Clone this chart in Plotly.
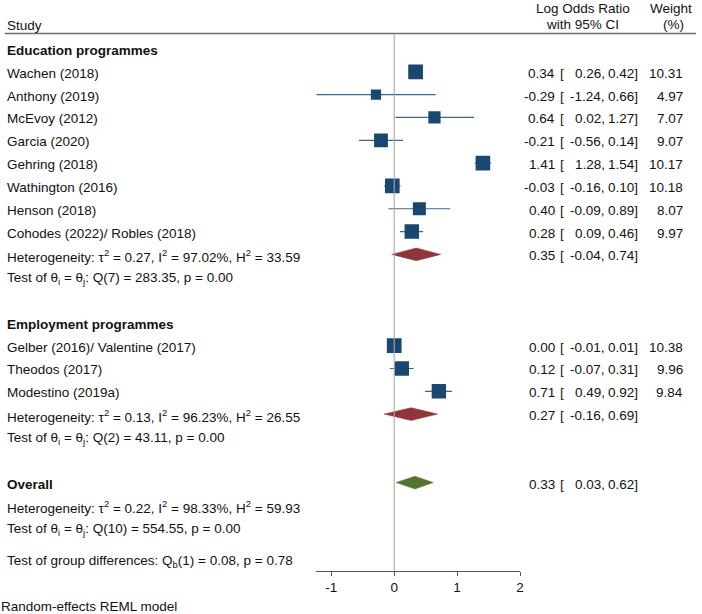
import plotly.graph_objects as go

# ---------------- data ----------------
edu_studies = ["Wachen (2018)", "Anthony (2019)", "McEvoy (2012)", "Garcia (2020)",
               "Gehring (2018)", "Wathington (2016)", "Henson (2018)",
               "Cohodes (2022)/ Robles (2018)"]
edu_est = [0.34, -0.29, 0.64, -0.21, 1.41, -0.03, 0.40, 0.28]
edu_lo = [0.26, -1.24, 0.02, -0.56, 1.28, -0.16, -0.09, 0.09]
edu_hi = [0.42, 0.66, 1.27, 0.14, 1.54, 0.10, 0.89, 0.46]
edu_w = [10.31, 4.97, 7.07, 9.07, 10.17, 10.18, 8.07, 9.97]
edu_sub = [0.35, -0.04, 0.74]
edu_het = "Heterogeneity: τ<sup>2</sup> = 0.27, I<sup>2</sup> = 97.02%, H<sup>2</sup> = 33.59"
edu_test = "Test of θ<sub>i</sub> = θ<sub>j</sub>: Q(7) = 283.35, p = 0.00"

emp_studies = ["Gelber (2016)/ Valentine (2017)", "Theodos (2017)", "Modestino (2019a)"]
emp_est = [0.00, 0.12, 0.71]
emp_lo = [-0.01, -0.07, 0.49]
emp_hi = [0.01, 0.31, 0.92]
emp_w = [10.38, 9.96, 9.84]
emp_sub = [0.27, -0.16, 0.69]
emp_het = "Heterogeneity: τ<sup>2</sup> = 0.13, I<sup>2</sup> = 96.23%, H<sup>2</sup> = 26.55"
emp_test = "Test of θ<sub>i</sub> = θ<sub>j</sub>: Q(2) = 43.11, p = 0.00"

overall = [0.33, 0.03, 0.62]
ov_het = "Heterogeneity: τ<sup>2</sup> = 0.22, I<sup>2</sup> = 98.33%, H<sup>2</sup> = 59.93"
ov_test = "Test of θ<sub>i</sub> = θ<sub>j</sub>: Q(10) = 554.55, p = 0.00"
group_test = "Test of group differences: Q<sub>b</sub>(1) = 0.08, p = 0.78"

group_names = ["Education programmes", "Employment programmes"]
tick_vals = [-1, 0, 1, 2]
footnote = "Random-effects REML model"

# ---------------- layout helpers ----------------
W, H = 702, 614
FONT = "Liberation Sans, Arial, sans-serif"
FS = 13.5
TXT = "#111111"
NAVY = "#1a476f"
CI_COL = "#3a6791"
MAROON = "#90353b"
GREEN = "#55752f"

ROW0_PX, ROW_PX = 49.0, 22.82
AXIS_PX = 570.7
y_bottom_row = (AXIS_PX - ROW0_PX) / ROW_PX
y_top_row = -ROW0_PX / ROW_PX

def px_x(p):
    return p / W

def px_y(p):
    return 1 - p / H

# row assignments
edu_head = 0
edu_rows = list(range(1, 1 + len(edu_studies)))
edu_sub_row = edu_rows[-1] + 1
edu_test_row = edu_sub_row + 1
emp_head = edu_test_row + 2
emp_rows = list(range(emp_head + 1, emp_head + 1 + len(emp_studies)))
emp_sub_row = emp_rows[-1] + 1
emp_test_row = emp_sub_row + 1
ov_row = emp_test_row + 2
ov_het_row = ov_row + 1
ov_test_row = ov_row + 2
group_row = ov_test_row + 1.4

fig = go.Figure()

all_est = edu_est + emp_est
all_lo = edu_lo + emp_lo
all_hi = edu_hi + emp_hi
all_w = edu_w + emp_w
all_rows = edu_rows + emp_rows

# CI lines
lx, ly = [], []
for lo, hi, r in zip(all_lo, all_hi, all_rows):
    lx += [lo, hi, None]
    ly += [r, r, None]
fig.add_trace(go.Scatter(x=lx, y=ly, mode="lines",
                         line=dict(color=CI_COL, width=1.2),
                         hoverinfo="skip", showlegend=False))

# squares (area proportional to weight)
sizes = [4.58 * (w ** 0.5) for w in all_w]
fig.add_trace(go.Scatter(x=all_est, y=all_rows, mode="markers",
                         marker=dict(symbol="square", size=sizes, color=NAVY,
                                     opacity=1, line=dict(width=0)),
                         showlegend=False))

# diamonds
DH = 0.28
for (est, lo, hi), r, col in [(edu_sub, edu_sub_row, MAROON),
                              (emp_sub, emp_sub_row, MAROON),
                              (overall, ov_row, GREEN)]:
    fig.add_trace(go.Scatter(x=[lo, est, hi, est, lo], y=[r, r - DH, r, r + DH, r],
                             mode="lines", fill="toself", fillcolor=col,
                             line=dict(color=col, width=0.5),
                             hoverinfo="skip", showlegend=False))

ann = []

def txt(text, x_px, row=None, y_px=None, anchor="left", bold=False, yshift=-1.5):
    if bold:
        text = "<b>" + text + "</b>"
    d = dict(text=text, x=px_x(x_px), xref="paper", xanchor=anchor,
             showarrow=False, font=dict(family=FONT, size=FS, color=TXT),
             borderpad=0, yanchor="middle")
    if row is not None:
        d.update(y=row, yref="y", yshift=yshift)
    else:
        d.update(y=px_y(y_px), yref="paper")
    ann.append(d)

LEFT = 6.5
# header
txt("Study", LEFT, y_px=25)
txt("Log Odds Ratio", 586, y_px=8, anchor="center")
txt("with 95% CI", 586, y_px=24, anchor="center")
txt("Weight", 675, y_px=8, anchor="center")
txt("(%)", 677, y_px=24, anchor="center")

# left column
txt(group_names[0], LEFT, row=edu_head, bold=True)
for n, r in zip(edu_studies, edu_rows):
    txt(n, LEFT, row=r)
txt(edu_het, LEFT, row=edu_sub_row)
txt(edu_test, LEFT, row=edu_test_row)
txt(group_names[1], LEFT, row=emp_head, bold=True)
for n, r in zip(emp_studies, emp_rows):
    txt(n, LEFT, row=r)
txt(emp_het, LEFT, row=emp_sub_row)
txt(emp_test, LEFT, row=emp_test_row)
txt("Overall", LEFT, row=ov_row, bold=True)
txt(ov_het, LEFT, row=ov_het_row)
txt(ov_test, LEFT, row=ov_test_row)
txt(group_test, LEFT, row=group_row)
txt(footnote, 0, y_px=606)

# right columns
def est_cols(est, lo, hi, r, w=None):
    txt(f"{est:.2f}", 559.5, row=r, anchor="right")
    txt("[", 562.5, row=r, anchor="left")
    txt(f"{lo:.2f},", 609.5, row=r, anchor="right")
    txt(f"{hi:.2f}]", 642.5, row=r, anchor="right")
    if w is not None:
        txt(f"{w:.2f}", 687.5, row=r, anchor="right")

for e, lo, hi, w, r in zip(all_est, all_lo, all_hi, all_w, all_rows):
    est_cols(e, lo, hi, r, w)
est_cols(*edu_sub, edu_sub_row)
est_cols(*emp_sub, emp_sub_row)
est_cols(*overall, ov_row)

shapes = [
    # header rule
    dict(type="line", xref="paper", yref="paper", x0=px_x(4.7), x1=px_x(700),
         y0=px_y(33.5), y1=px_y(33.5), line=dict(color="#6e6e6e", width=1.6)),
    # no-effect line
    dict(type="line", xref="x", yref="paper", x0=0, x1=0,
         y0=px_y(AXIS_PX), y1=px_y(33.5), line=dict(color="#a8a8a8", width=1.1)),
]

fig.update_layout(
    width=W, height=H,
    margin=dict(l=0, r=0, t=0, b=0),
    paper_bgcolor="white", plot_bgcolor="white",
    showlegend=False,
    annotations=ann, shapes=shapes,
    xaxis=dict(domain=[px_x(318), px_x(523)], range=[-1.24, 2],
               tickvals=tick_vals, ticktext=[str(v) for v in tick_vals],
               ticks="outside", ticklen=4, tickcolor="#555555", tickwidth=1,
               ticklabelstandoff=0,
               showline=True, linecolor="#555555", linewidth=1.1,
               showgrid=False, zeroline=False,
               tickfont=dict(family=FONT, size=FS, color=TXT)),
    yaxis=dict(domain=[px_y(AXIS_PX), 1], range=[y_bottom_row, y_top_row],
               visible=False, showgrid=False, zeroline=False),
)

fig.write_html("out.html", config={"displayModeBar": False},
               post_script="document.body.style.margin='0';document.body.style.overflow='hidden';")
